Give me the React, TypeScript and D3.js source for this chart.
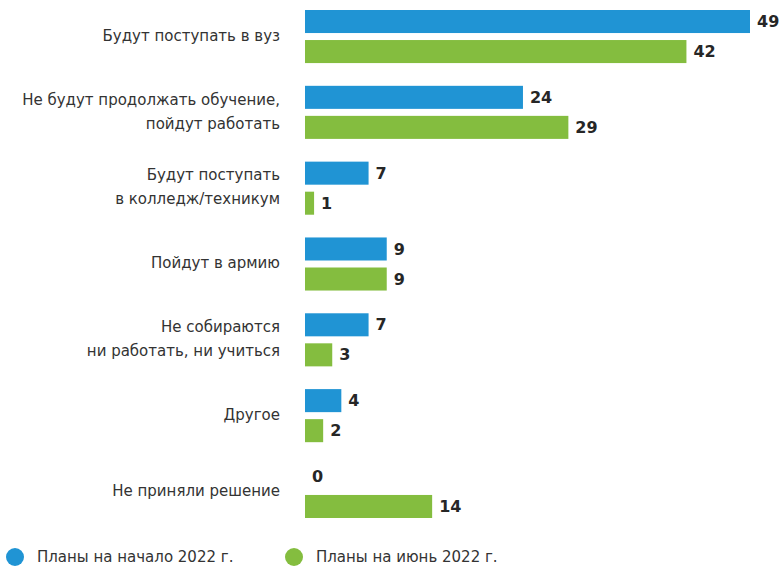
import { useMemo } from 'react';
import * as d3 from 'd3';

const categories = [
  'Будут поступать в вуз',
  'Не будут продолжать обучение,|пойдут работать',
  'Будут поступать|в колледж/техникум',
  'Пойдут в армию',
  'Не собираются|ни работать, ни учиться',
  'Другое',
  'Не приняли решение',
];
const seriesNames = ['Планы на начало 2022 г.', 'Планы на июнь 2022 г.'];
const seriesColors = ['#2094d4', '#84bd3f'];
const valuesStart = [49, 24, 7, 9, 7, 4, 0];
const valuesJune = [42, 29, 1, 9, 3, 2, 14];

const WIDTH = 781;
const HEIGHT = 566;
const FONT = '"DejaVu Sans", "Noto Sans", sans-serif';

export default function App() {
  const series = [valuesStart, valuesJune];

  const yScale = useMemo(
    () => d3.scaleBand().domain(categories).range([10, 518]).paddingInner(0.3).paddingOuter(0),
    []
  );
  const subScale = useMemo(
    () => d3.scaleBand().domain(['0', '1']).range([0, yScale.bandwidth()]).paddingInner(0.233),
    [yScale]
  );
  const xScale = d3.scaleLinear().domain([0, 49]).range([305, 750]);

  return (
    <svg
      width={WIDTH}
      height={HEIGHT}
      style={{ position: 'absolute', left: 0, top: 0, background: '#fff' }}
      fontFamily={FONT}
    >
      {categories.map((cat, i) => {
        const y0 = yScale(cat)!;
        const lines = cat.split('|');
        const center = y0 + yScale.bandwidth() / 2 - 1;
        const lh = 24;
        return (
          <g key={cat}>
            <text textAnchor="end" fontSize={15} fill="#333">
              {lines.map((l, j) => (
                <tspan key={j} x={280} y={center - ((lines.length - 1) * lh) / 2 + j * lh} dy="0.35em">
                  {l}
                </tspan>
              ))}
            </text>
            {series.map((vals, s) => {
              const yy = y0 + subScale(String(s))!;
              const v = vals[i];
              const w = xScale(v) - xScale(0);
              return (
                <g key={s}>
                  {v > 0 && (
                    <rect x={xScale(0)} y={yy} width={w} height={subScale.bandwidth()} fill={seriesColors[s]} />
                  )}
                  <text
                    x={xScale(v) + (v > 0 ? 7 : 7)}
                    y={yy + subScale.bandwidth() / 2}
                    dy="0.35em"
                    fontSize={16}
                    fontWeight="bold"
                    fill="#262626"
                  >
                    {v}
                  </text>
                </g>
              );
            })}
          </g>
        );
      })}
      {seriesNames.map((name, s) => {
        const lx = s === 0 ? 15 : 294;
        return (
          <g key={name}>
            <circle cx={lx} cy={557} r={9} fill={seriesColors[s]} />
            <text x={lx + 22} y={557} dy="0.35em" fontSize={15} fill="#333">
              {name}
            </text>
          </g>
        );
      })}
    </svg>
  );
}
